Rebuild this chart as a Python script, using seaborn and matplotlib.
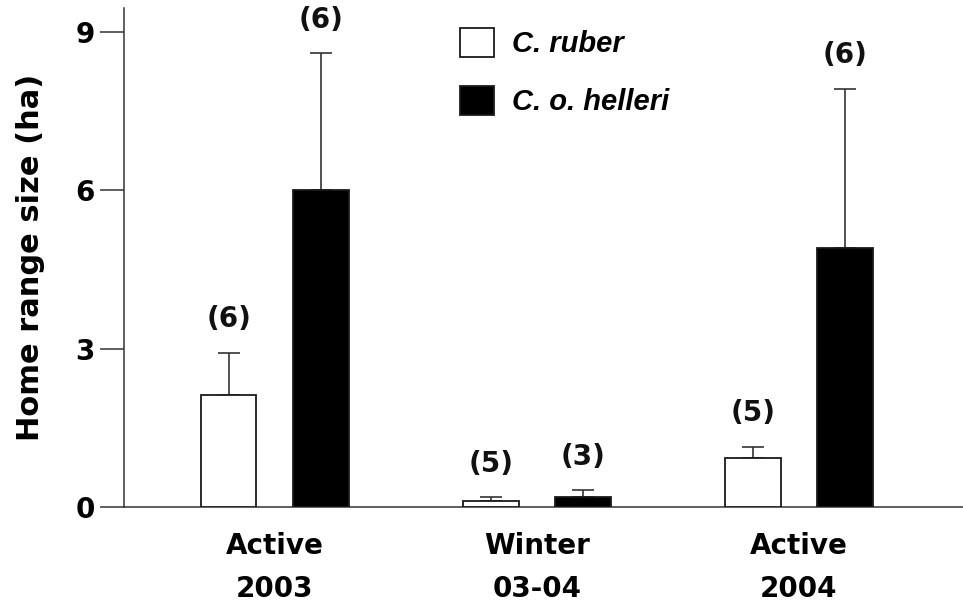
import numpy as np
import pandas as pd
import matplotlib
matplotlib.use("Agg")
import matplotlib.pyplot as plt
import seaborn as sns

# ---- data ----
periods = ["Active\n2003", "Winter\n03-04", "Active\n2004"]
species = ["C. ruber", "C. o. helleri"]
ruber_mean = [2.12, 0.12, 0.93]
ruber_se = [0.80, 0.06, 0.21]
helleri_mean = [6.00, 0.18, 4.90]
helleri_se = [2.60, 0.14, 3.02]
ruber_n = ["(6)", "(5)", "(5)"]
helleri_n = ["(6)", "(3)", "(6)"]
yticks = [0, 3, 6, 9]

df = pd.DataFrame({
    "period": periods * 2,
    "species": [species[0]] * 3 + [species[1]] * 3,
    "mean": ruber_mean + helleri_mean,
})
errs = ruber_se + helleri_se
labels_n = ruber_n + helleri_n

sns.set_style("white")
plt.rcParams["font.family"] = ["DejaVu Sans"]
plt.rcParams["text.color"] = "black"
plt.rcParams["xtick.color"] = "black"
plt.rcParams["ytick.color"] = "black"
plt.rcParams["axes.labelcolor"] = "black"

fig = plt.figure(figsize=(9.63, 6.06), dpi=100)
ax = fig.add_axes([124 / 963, 99 / 606, 839 / 963, 499 / 606])

sns.barplot(data=df, x="period", y="mean", hue="species", order=periods,
            hue_order=species, palette=["white", "black"], width=0.704,
            gap=0.40, edgecolor="#1a1a1a", linewidth=1.3, errorbar=None,
            ax=ax, zorder=3, legend=True)

# bars in order: hue 0 (3 bars) then hue 1 (3 bars)
patches = [p for p in ax.patches if p.get_height() > 0][:6]
for p, m, e, lab in zip(patches, df["mean"], errs, labels_n):
    xc = p.get_x() + p.get_width() / 2
    ax.errorbar([xc], [m], yerr=[[0], [e]], fmt="none", ecolor="#333333",
                elinewidth=1.2, capsize=8, capthick=1.2, zorder=2)
    ax.annotate(lab, (xc, m + e), xytext=(0, 24), textcoords="offset points",
                ha="center", va="center", fontsize=20, fontweight="bold",
                color="#111111")

ax.set_xlim(-0.576, 2.626)
ax.set_ylim(0, 9.45)
ax.set_yticks(yticks)
ax.set_yticklabels([str(t) for t in yticks], fontsize=20, fontweight="bold")
ax.set_xticklabels(periods, fontsize=20, fontweight="bold", linespacing=1.7)
ax.tick_params(axis="y", direction="out", length=17, width=1.1, color="#333333",
               labelcolor="black", pad=4, left=True)
ax.tick_params(axis="x", length=0, pad=18, labelcolor="black")
ax.set_xlabel("")
ax.set_ylabel("Home range size (ha)", fontsize=22, fontweight="bold",
              color="black")
ax.yaxis.set_label_coords(-0.094, 0.5)

for s in ["top", "right"]:
    ax.spines[s].set_visible(False)
for s in ["left", "bottom"]:
    ax.spines[s].set_color("#333333")
    ax.spines[s].set_linewidth(1.1)

handles, lbls = ax.get_legend_handles_labels()
leg = ax.legend(handles, lbls, loc="upper left",
                bbox_to_anchor=((460 - 124) / 839, (507 - 28) / 499),
                frameon=False, borderpad=0, borderaxespad=0,
                handlelength=1.15, handleheight=1.15, handletextpad=0.65,
                labelspacing=0.95,
                prop={"family": "Liberation Sans", "style": "italic",
                      "weight": "bold", "size": 21})
for t in leg.get_texts():
    t.set_color("black")

fig.savefig("out.png", dpi=100)
